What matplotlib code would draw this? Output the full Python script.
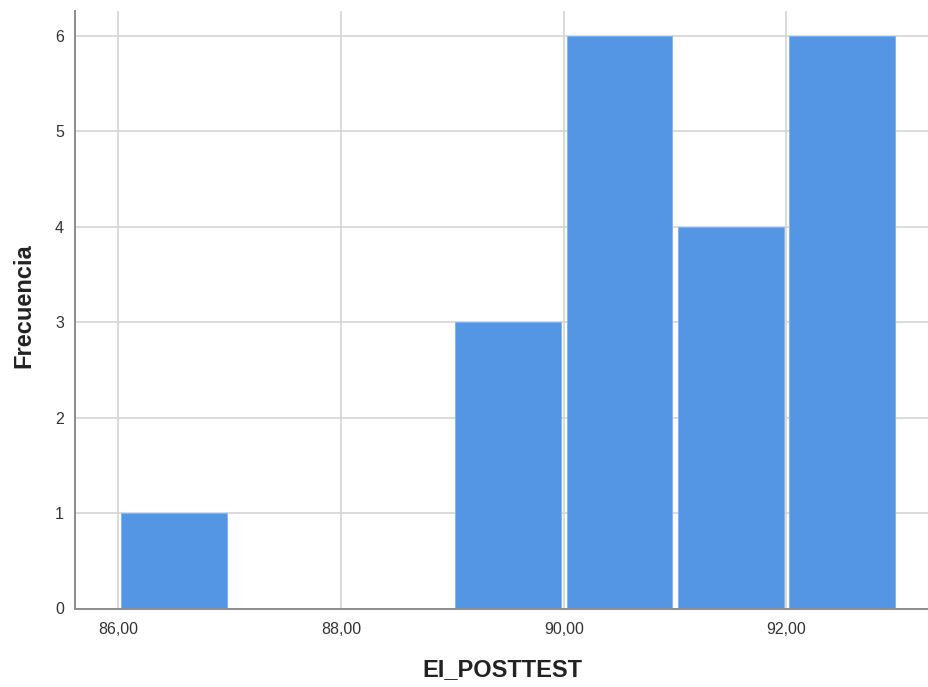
import matplotlib.pyplot as plt
import numpy

plt.rcParams['font.family'] = ['Liberation Sans', 'DejaVu Sans']

# histogram data (bins of width 1)
bin_left = [86, 87, 88, 89, 90, 91, 92]
frecuencia = [1, 0, 0, 3, 6, 4, 6]
x_ticks = [86, 88, 90, 92]
x_tick_labels = ['86,00', '88,00', '90,00', '92,00']
y_ticks = [0, 1, 2, 3, 4, 5, 6]

fig = plt.figure(figsize=(9.29, 6.87), dpi=100)
ax = fig.add_axes([75 / 929, 78.5 / 687, 854 / 929, 597.5 / 687])

centers = numpy.array(bin_left) + 0.5
ax.bar(centers, frecuencia, width=0.95, color='#5596E4',
       edgecolor='#7fb0ee', linewidth=0.6, zorder=2)

ax.set_xlim(85.61, 93.28)
ax.set_ylim(0, 6.26)
ax.set_xticks(x_ticks)
ax.set_xticklabels(x_tick_labels)
ax.set_yticks(y_ticks)

ax.set_axisbelow(True)
ax.grid(True, color='#d4d4d4', linewidth=1.2, zorder=0)

for side in ['top', 'right']:
    ax.spines[side].set_visible(False)
for side in ['left', 'bottom']:
    ax.spines[side].set_color('#8c8c8c')
    ax.spines[side].set_linewidth(1.4)

ax.tick_params(axis='both', length=0, labelsize=11.5, colors='#333333')
ax.tick_params(axis='x', pad=10)
ax.tick_params(axis='y', pad=8)

ax.set_xlabel('EI_POSTTEST', fontsize=17, fontweight='bold', color='#222222')
ax.set_ylabel('Frecuencia', fontsize=17, fontweight='bold', color='#222222')
ax.xaxis.label.set_va('center')
ax.yaxis.label.set_va('center')
ax.xaxis.set_label_coords(0.5, -0.103)
ax.yaxis.set_label_coords(-0.06, 0.507)

plt.savefig('out.png', dpi=100)
